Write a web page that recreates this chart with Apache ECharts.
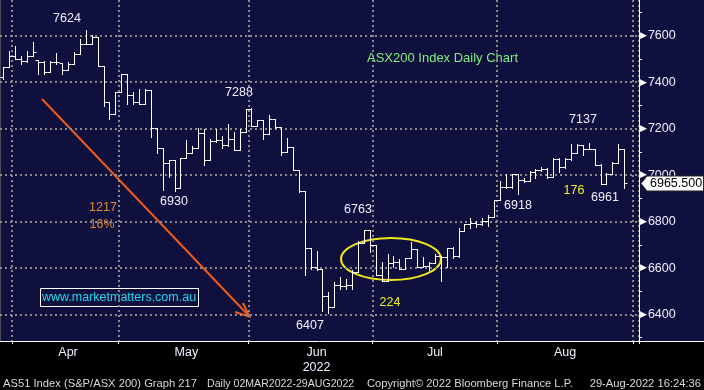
<!DOCTYPE html>
<html><head><meta charset="utf-8">
<script src="https://cdn.jsdelivr.net/npm/echarts@6/dist/echarts.min.js"></script>
<style>
html,body{margin:0;padding:0;background:#000}
#c{width:704px;height:390px;background:linear-gradient(#10103e 0,#10103e 341px,#000 341px,#000 100%)}
</style>
</head><body><div id="c"></div><script>
// Daily OHLC, ASX200 (AS51), late Mar - 29 Aug 2022
const opens=[7424,7467,7514,7502,7493,7514,7497,7489,7446,7489,
7484,7454,7480,7523,7566,7566,7596,7472,7313,7262,
7360,7437,7347,7317,7305,7365,7202,7116,7052,7065,
6945,7073,7095,7116,7180,7065,7146,7150,7129,7155,
7108,7185,7284,7210,7236,7176,7240,7206,7099,7121,
7022,6932,6688,6603,6594,6478,6431,6525,6521,6525,
6581,6710,6763,6701,6568,6543,6620,6628,6598,6645,
6680,6603,6607,6620,6654,6649,6688,6654,6761,6791,
6795,6791,6804,6821,6894,6949,6949,7005,6979,6975,
7014,7022,7026,6992,7069,7035,7069,7095,7129,7112,
7112,7043,6962,7005,7052,7112];
const highs=[7467,7536,7557,7514,7536,7574,7497,7493,7493,7527,
7484,7489,7532,7587,7624,7604,7596,7472,7317,7360,
7437,7437,7356,7369,7369,7365,7202,7116,7065,7065,
7073,7150,7125,7202,7198,7155,7198,7168,7219,7185,
7198,7284,7288,7236,7236,7258,7240,7206,7159,7121,
7022,6932,6688,6675,6594,6496,6538,6560,6555,6590,
6718,6763,6763,6701,6628,6662,6654,6637,6645,6714,
6680,6649,6624,6662,6654,6688,6692,6774,6791,6817,
6804,6817,6829,6894,6975,7005,7005,7005,6988,7018,
7026,7035,7031,7073,7073,7073,7133,7133,7129,7137,
7112,7048,7009,7056,7133,7112];
const lows=[7412,7467,7502,7480,7489,7514,7437,7437,7446,7480,
7437,7454,7480,7523,7566,7566,7472,7296,7240,7262,
7360,7305,7305,7305,7305,7163,7095,6938,6992,6930,
6945,7073,7095,7116,7043,7065,7142,7116,7125,7108,
7108,7185,7210,7210,7155,7176,7202,7086,7099,7022,
6928,6568,6598,6590,6414,6407,6431,6508,6508,6508,
6581,6710,6667,6568,6543,6543,6603,6594,6598,6645,
6603,6603,6590,6620,6543,6603,6645,6649,6761,6774,
6778,6787,6782,6821,6894,6945,6945,6918,6971,6975,
6988,7018,6988,6992,7014,7031,7065,7095,7086,7112,
7043,6961,6962,7005,7052,6945];
const closes=[7467,7514,7502,7493,7514,7532,7489,7446,7489,7489,
7454,7480,7523,7566,7566,7596,7472,7313,7262,7360,
7437,7347,7317,7305,7365,7202,7116,7052,7065,6945,
7073,7095,7116,7180,7065,7146,7150,7129,7155,7108,
7185,7284,7210,7236,7176,7240,7206,7099,7121,7022,
6932,6688,6603,6594,6478,6431,6525,6521,6525,6581,
6710,6763,6701,6568,6543,6620,6628,6598,6645,6680,
6603,6607,6620,6654,6649,6688,6654,6761,6791,6795,
6791,6804,6821,6894,6949,6949,7005,6979,6975,7014,
7022,7026,6992,7069,7035,7069,7095,7129,7112,7112,
7043,6962,7005,7052,7112,6965.5];

// x axis: trading-day slots per period (+2 empty slots at the right end)
const periodNames=['Mar','Apr','May','Jun','Jul','Aug'];
const periodBars=[2,18,22,21,21,22];
const emptySlots=2;
const monthLabels=['Apr','May','Jun\n2022','Jul','Aug'];
const monthLabelIdx=[11,31,53,73,95];
const monthBoundaryIdx=[2,20,42,63,84,107];

// y axis
const yMin=6286, yMax=7754;
const majorTicks=[6400,6600,6800,7000,7200,7400,7600];
const minorTicks=[6300,6400,6500,6600,6700,6800,6900,7000,7100,7200,7300,7400,7500,7600,7700];

const categories=[];
periodNames.forEach((p,k)=>{for(let j=1;j<=periodBars[k];j++)categories.push(p+'-'+j);});
for(let j=0;j<emptySlots;j++)categories.push('pad-'+j);

const bars=opens.map((o,i)=>[i,o,highs[i],lows[i],closes[i]]);

const gridLine={color:'#8a8a8a',type:[2,3],width:2};
const FONT='"Liberation Sans", Arial, sans-serif';

const chart=echarts.init(document.getElementById('c'),null,{renderer:'canvas'});
const option={
  animation:false,
  backgroundColor:'transparent',
  textStyle:{fontFamily:FONT},
  grid:{left:0,right:65,top:-2,bottom:49,containLabel:false},
  xAxis:{
    type:'category',data:categories,boundaryGap:true,
    axisLine:{show:true,lineStyle:{color:'#ffffff',width:1}},
    axisTick:{show:true,length:3,interval:(i)=>monthBoundaryIdx.includes(i),lineStyle:{color:'#ffffff'}},
    axisLabel:{show:true,interval:(i)=>monthLabelIdx.includes(i),
      formatter:(v,i)=>{const k=monthLabelIdx.indexOf(i);return k>=0?monthLabels[k]:'';},
      color:'#eef0ff',fontSize:12.5,fontFamily:FONT,margin:4,lineHeight:15},
    splitLine:{show:true,interval:(i)=>monthBoundaryIdx.includes(i),lineStyle:gridLine}
  },
  yAxis:[
    {type:'value',min:yMin,max:yMax,position:'right',
     axisLine:{show:true,lineStyle:{color:'#ffffff',width:1}},
     axisTick:{show:true,length:3,customValues:minorTicks,lineStyle:{color:'#ffffff'}},
     axisLabel:{show:false},splitLine:{show:false}},
    {type:'value',min:yMin,max:yMax,position:'right',
     axisLine:{show:false},
     axisTick:{show:false,customValues:majorTicks},
     axisLabel:{show:true,customValues:majorTicks,margin:1,
       formatter:(v)=>'{t|\u25B6}{v|'+v+'}',
       rich:{t:{fontSize:9,color:'#ffffff',fontFamily:'DejaVu Sans',padding:[0,1,0,0]},
             v:{fontSize:12.5,color:'#eef0ff',fontFamily:FONT}}},
     splitLine:{show:true,lineStyle:gridLine}}
  ],
  series:[{
    type:'custom',xAxisIndex:0,yAxisIndex:0,data:bars,clip:false,
    encode:{x:0,y:[1,2,3,4]},
    renderItem:function(params,api){
      const i=api.value(0);
      const pO=api.coord([i,api.value(1)]);
      const pH=api.coord([i,api.value(2)]);
      const pL=api.coord([i,api.value(3)]);
      const pC=api.coord([i,api.value(4)]);
      const x=Math.round(pH[0])+0.5;
      const yH=Math.round(pH[1])+0.5, yL=Math.round(pL[1])+0.5;
      const yO=Math.round(pO[1])+0.5, yC=Math.round(pC[1])+0.5;
      const t=3;
      const st={stroke:'#ffffff',lineWidth:1};
      return {type:'group',children:[
        {type:'line',shape:{x1:x,y1:yH-0.5,x2:x,y2:yL+0.5},style:st},
        {type:'line',shape:{x1:x-t,y1:yO,x2:x,y2:yO},style:st},
        {type:'line',shape:{x1:x,y1:yC,x2:x+t,y2:yC},style:st}
      ]};
    }
  }],
  graphic:[
    {id:'lb',type:'line',shape:{x1:0.5,y1:0,x2:0.5,y2:341},style:{stroke:'#4a4a5a',lineWidth:1},silent:true},
    {id:'xext',type:'line',shape:{x1:639,y1:341.5,x2:704,y2:341.5},style:{stroke:'#ffffff',lineWidth:1},silent:true},
    {id:'arrow',type:'line',shape:{x1:42,y1:99,x2:249,y2:316},style:{stroke:'#f05a1a',lineWidth:2}},
    {id:'arrowhead',type:'polyline',shape:{points:[[243,303],[249.5,316.5],[235,312]]},style:{stroke:'#f05a1a',lineWidth:2,fill:null}},
    {id:'ell',type:'ellipse',shape:{cx:391,cy:259,rx:50,ry:21},style:{stroke:'#eee81a',lineWidth:2,fill:null}},
    {id:'urlbox',type:'rect',shape:{x:40.5,y:288.5,width:158,height:18},style:{stroke:'#ffffff',lineWidth:1,fill:null}},
    {id:'url',type:'text',x:119,y:297.5,style:{text:'www.marketmatters.com.au',fill:'#20d8f0',font:'12.5px '+FONT,textAlign:'center',textVerticalAlign:'middle'}},
    {id:'title',type:'text',x:367,y:58,style:{text:'ASX200 Index Daily Chart',fill:'#7cf07c',font:'13px '+FONT,textAlign:'left',textVerticalAlign:'middle'}},
    {id:'a1',type:'text',x:67,y:19,style:{text:'7624',fill:'#eef0ff',font:'12.5px '+FONT,textAlign:'center',textVerticalAlign:'middle'}},
    {id:'a2',type:'text',x:239,y:93,style:{text:'7288',fill:'#eef0ff',font:'12.5px '+FONT,textAlign:'center',textVerticalAlign:'middle'}},
    {id:'a3',type:'text',x:583,y:120,style:{text:'7137',fill:'#eef0ff',font:'12.5px '+FONT,textAlign:'center',textVerticalAlign:'middle'}},
    {id:'a4',type:'text',x:174,y:202,style:{text:'6930',fill:'#eef0ff',font:'12.5px '+FONT,textAlign:'center',textVerticalAlign:'middle'}},
    {id:'a5',type:'text',x:358,y:210,style:{text:'6763',fill:'#eef0ff',font:'12.5px '+FONT,textAlign:'center',textVerticalAlign:'middle'}},
    {id:'a6',type:'text',x:310,y:326,style:{text:'6407',fill:'#eef0ff',font:'12.5px '+FONT,textAlign:'center',textVerticalAlign:'middle'}},
    {id:'a7',type:'text',x:518,y:206,style:{text:'6918',fill:'#eef0ff',font:'12.5px '+FONT,textAlign:'center',textVerticalAlign:'middle'}},
    {id:'a8',type:'text',x:605,y:198,style:{text:'6961',fill:'#eef0ff',font:'12.5px '+FONT,textAlign:'center',textVerticalAlign:'middle'}},
    {id:'o1',type:'text',x:103,y:208,style:{text:'1217',fill:'#e08a30',font:'12.5px '+FONT,textAlign:'center',textVerticalAlign:'middle'}},
    {id:'o2',type:'text',x:102,y:225,style:{text:'16%',fill:'#e08a30',font:'12.5px '+FONT,textAlign:'center',textVerticalAlign:'middle'}},
    {id:'y1',type:'text',x:390,y:303,style:{text:'224',fill:'#f0f020',font:'12.5px '+FONT,textAlign:'center',textVerticalAlign:'middle'}},
    {id:'y2',type:'text',x:574,y:191,style:{text:'176',fill:'#f0f020',font:'12.5px '+FONT,textAlign:'center',textVerticalAlign:'middle'}},
    {id:'f1',type:'text',x:3,y:384,style:{text:'AS51 Index (S&P/ASX 200) Graph 217',fill:'#d8d8d8',font:'11.2px '+FONT,textAlign:'left',textVerticalAlign:'middle'}},
    {id:'f2',type:'text',x:207,y:384,style:{text:'Daily 02MAR2022-29AUG2022',fill:'#d8d8d8',font:'10.6px '+FONT,textAlign:'left',textVerticalAlign:'middle'}},
    {id:'f3',type:'text',x:367,y:384,style:{text:'Copyright\u00A9 2022 Bloomberg Finance L.P.',fill:'#d8d8d8',font:'11.2px '+FONT,textAlign:'left',textVerticalAlign:'middle'}},
    {id:'f4',type:'text',x:701,y:384,style:{text:'29-Aug-2022 16:24:36',fill:'#d8d8d8',font:'11.2px '+FONT,textAlign:'right',textVerticalAlign:'middle'}}
  ]
};
chart.setOption(option);

// last-price tag placed from the data via the axis scale
const last=closes[closes.length-1];
const ty=Math.round(chart.convertToPixel({yAxisIndex:0},last))+0.5;
chart.setOption({graphic:[
  {id:'tag',type:'polygon',shape:{points:[[641,ty],[647,ty-7.5],[703.5,ty-7.5],[703.5,ty+7.5],[647,ty+7.5]]},style:{fill:'#ffffff',stroke:'#222',lineWidth:1},z:50},
  {id:'tagt',type:'text',x:650,y:ty,style:{text:last.toFixed(3),fill:'#000000',font:'12.5px '+FONT,textAlign:'left',textVerticalAlign:'middle'},z:51}
]});
</script></body></html>
